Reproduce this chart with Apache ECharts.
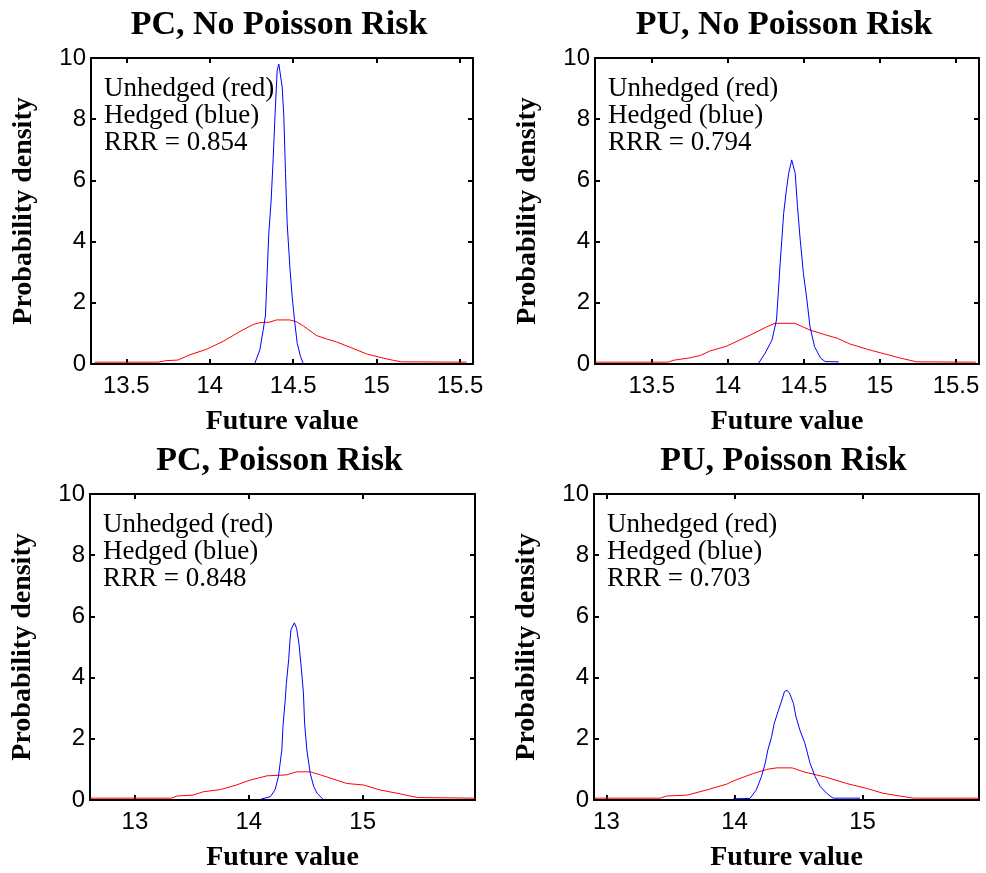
<!DOCTYPE html>
<html>
<head>
<meta charset="utf-8">
<title>Hedged vs unhedged future value densities</title>
<script src="https://cdn.jsdelivr.net/npm/echarts@6/dist/echarts.min.js"></script>
<style>
  html, body { margin: 0; padding: 0; background: #fff; }
  #chart { width: 986px; height: 873px; }
</style>
</head>
<body>
<div id="chart"></div>
<script>
// panel order: PC no risk, PU no risk, PC risk, PU risk
const panelTitles = ["PC, No Poisson Risk", "PU, No Poisson Risk", "PC, Poisson Risk", "PU, Poisson Risk"];
const rrrValues = [0.854, 0.794, 0.848, 0.703];

const xMin = [13.288, 13.127, 12.605, 12.903];
const xMax = [15.578, 15.651, 15.987, 15.909];
const xTicks = [
  [13.5, 14, 14.5, 15, 15.5],
  [13.5, 14, 14.5, 15, 15.5],
  [13, 14, 15],
  [13, 14, 15]
];
const yTicksMax = 10;

// [future value, probability density]
const unhedgedPCNoRisk = [
  [13.31, 0.06], [13.69, 0.06], [13.74, 0.11], [13.81, 0.13], [13.88, 0.30], [13.98, 0.48],
  [14.08, 0.74], [14.18, 1.06], [14.26, 1.29], [14.30, 1.35], [14.36, 1.37], [14.40, 1.44],
  [14.48, 1.44], [14.52, 1.38], [14.56, 1.25], [14.64, 0.93], [14.70, 0.82], [14.76, 0.72],
  [14.84, 0.55], [14.94, 0.33], [15.04, 0.19], [15.10, 0.12], [15.15, 0.07], [15.54, 0.06]
];
const hedgedPCNoRisk = [
  [14.27, 0.02], [14.30, 0.46], [14.32, 1.10], [14.334, 1.60], [14.344, 2.96], [14.354, 4.27],
  [14.368, 5.36], [14.38, 6.70], [14.39, 7.97], [14.404, 9.60], [14.414, 9.80], [14.424, 9.77],
  [14.434, 9.06], [14.444, 8.08], [14.454, 6.23], [14.464, 4.60], [14.48, 3.18], [14.494, 2.20],
  [14.508, 1.44], [14.524, 0.68], [14.544, 0.24], [14.56, 0.02]
];

const unhedgedPUNoRisk = [
  [13.13, 0.06], [13.61, 0.06], [13.64, 0.12], [13.75, 0.20], [13.82, 0.28], [13.88, 0.42],
  [13.99, 0.58], [14.15, 0.95], [14.25, 1.20], [14.31, 1.33], [14.44, 1.33], [14.54, 1.11],
  [14.63, 0.97], [14.72, 0.84], [14.80, 0.66], [14.91, 0.49], [15.00, 0.37], [15.13, 0.20],
  [15.24, 0.07], [15.63, 0.06]
];
const hedgedPUNoRisk = [
  [14.20, 0.01], [14.245, 0.35], [14.29, 0.78], [14.32, 1.44], [14.333, 2.42], [14.344, 3.29],
  [14.355, 4.05], [14.367, 4.92], [14.385, 5.69], [14.40, 6.23], [14.42, 6.67], [14.443, 6.23],
  [14.458, 5.14], [14.476, 4.05], [14.497, 2.96], [14.52, 2.09], [14.54, 1.22], [14.57, 0.57],
  [14.61, 0.19], [14.64, 0.08], [14.73, 0.07]
];

const unhedgedPCRisk = [
  [12.61, 0.06], [13.32, 0.06], [13.37, 0.13], [13.51, 0.16], [13.60, 0.27], [13.75, 0.34],
  [13.89, 0.49], [14.01, 0.65], [14.16, 0.79], [14.33, 0.82], [14.42, 0.92], [14.54, 0.92],
  [14.63, 0.82], [14.77, 0.65], [14.86, 0.54], [15.01, 0.49], [15.15, 0.33], [15.33, 0.20],
  [15.48, 0.08], [15.99, 0.06]
];
const hedgedPCRisk = [
  [14.11, 0.03], [14.19, 0.11], [14.23, 0.33], [14.26, 0.76], [14.29, 1.63], [14.30, 2.40],
  [14.32, 3.27], [14.33, 3.81], [14.35, 4.58], [14.36, 5.12], [14.37, 5.56], [14.40, 5.79],
  [14.42, 5.61], [14.44, 5.12], [14.46, 4.36], [14.48, 3.49], [14.49, 2.51], [14.51, 1.63],
  [14.54, 0.87], [14.57, 0.44], [14.60, 0.22], [14.65, 0.03]
];

const unhedgedPURisk = [
  [12.91, 0.06], [13.42, 0.06], [13.47, 0.13], [13.63, 0.16], [13.73, 0.27], [13.80, 0.35],
  [13.94, 0.52], [13.99, 0.62], [14.09, 0.78], [14.15, 0.87], [14.25, 1.00], [14.33, 1.05],
  [14.45, 1.05], [14.54, 0.92], [14.64, 0.82], [14.72, 0.74], [14.875, 0.54], [15.03, 0.38],
  [15.16, 0.22], [15.29, 0.13], [15.40, 0.06], [15.91, 0.06]
];
const hedgedPURisk = [
  [13.99, 0.04], [14.12, 0.05], [14.17, 0.33], [14.21, 0.76], [14.24, 1.20], [14.26, 1.63],
  [14.29, 2.07], [14.31, 2.50], [14.34, 2.89], [14.37, 3.27], [14.39, 3.54], [14.41, 3.59],
  [14.43, 3.49], [14.46, 3.16], [14.48, 2.72], [14.51, 2.29], [14.55, 1.85], [14.59, 1.20],
  [14.63, 0.76], [14.67, 0.44], [14.72, 0.22], [14.77, 0.06], [14.98, 0.06]
];

const unhedgedSeries = [unhedgedPCNoRisk, unhedgedPUNoRisk, unhedgedPCRisk, unhedgedPURisk];
const hedgedSeries = [hedgedPCNoRisk, hedgedPUNoRisk, hedgedPCRisk, hedgedPURisk];

// plot boxes in pixels
const boxes = [
  { left: 91, top: 58, width: 382, height: 306 },
  { left: 595, top: 58, width: 384, height: 306 },
  { left: 90, top: 494, width: 385, height: 306 },
  { left: 594, top: 494, width: 385, height: 306 }
];

const serif = "'Liberation Serif', 'Times New Roman', serif";
const sans = "'Liberation Sans', Arial, sans-serif";
const lineStyleAxis = { show: true, onZero: false, lineStyle: { color: "#000", width: 2 } };

const grid = [], xAxis = [], yAxis = [], series = [], title = [];

boxes.forEach((b, i) => {
  grid.push({ left: b.left, top: b.top, width: b.width, height: b.height, containLabel: false });

  title.push({
    text: panelTitles[i],
    left: b.left + b.width / 2 - 3,
    top: b.top - 50,
    textAlign: "center",
    padding: 0,
    textStyle: { fontFamily: serif, fontWeight: "bold", fontSize: 34, color: "#000" }
  });
  title.push({
    text: "Unhedged (red)\nHedged (blue)\nRRR = " + rrrValues[i].toFixed(3),
    left: b.left + 13,
    top: b.top + 17,
    padding: 0,
    textStyle: { fontFamily: serif, fontWeight: "normal", fontSize: 27, lineHeight: 27, color: "#000" }
  });

  // bottom and top x axes
  xAxis.push({
    type: "value", gridIndex: i, min: xMin[i], max: xMax[i], position: "bottom",
    name: "Future value", nameLocation: "middle", nameGap: 44,
    nameTextStyle: { fontFamily: serif, fontWeight: "bold", fontSize: 28, color: "#000" },
    axisLine: lineStyleAxis,
    axisTick: { inside: true, length: 5, customValues: xTicks[i], lineStyle: { color: "#000", width: 2 } },
    axisLabel: { customValues: xTicks[i], margin: 10, fontFamily: sans, fontSize: 24, color: "#000" },
    splitLine: { show: false }
  });
  xAxis.push({
    type: "value", gridIndex: i, min: xMin[i], max: xMax[i], position: "top",
    axisLine: lineStyleAxis,
    axisTick: { inside: true, length: 5, customValues: xTicks[i], lineStyle: { color: "#000", width: 2 } },
    axisLabel: { show: false },
    splitLine: { show: false }
  });
  // left and right y axes
  yAxis.push({
    type: "value", gridIndex: i, min: 0, max: yTicksMax, interval: 2, position: "left",
    name: "Probability density", nameLocation: "middle", nameGap: 53,
    nameTextStyle: { fontFamily: serif, fontWeight: "bold", fontSize: 28, color: "#000" },
    axisLine: lineStyleAxis,
    axisTick: { inside: true, length: 5, lineStyle: { color: "#000", width: 2 } },
    axisLabel: { margin: 5, fontFamily: sans, fontSize: 24, color: "#000" },
    splitLine: { show: false }
  });
  yAxis.push({
    type: "value", gridIndex: i, min: 0, max: yTicksMax, interval: 2, position: "right",
    axisLine: lineStyleAxis,
    axisTick: { inside: true, length: 5, lineStyle: { color: "#000", width: 2 } },
    axisLabel: { show: false },
    splitLine: { show: false }
  });

  series.push({
    type: "line", xAxisIndex: 2 * i, yAxisIndex: 2 * i,
    data: unhedgedSeries[i], showSymbol: false, symbol: "none",
    lineStyle: { color: "#ff0000", width: 1 }, z: 3
  });
  series.push({
    type: "line", xAxisIndex: 2 * i, yAxisIndex: 2 * i,
    data: hedgedSeries[i], showSymbol: false, symbol: "none",
    lineStyle: { color: "#0000ff", width: 1 }, z: 4
  });
});

const myChart = echarts.init(document.getElementById("chart"));
myChart.setOption({
  animation: false,
  backgroundColor: "#fff",
  title,
  grid,
  xAxis,
  yAxis,
  series
});
</script>
</body>
</html>
